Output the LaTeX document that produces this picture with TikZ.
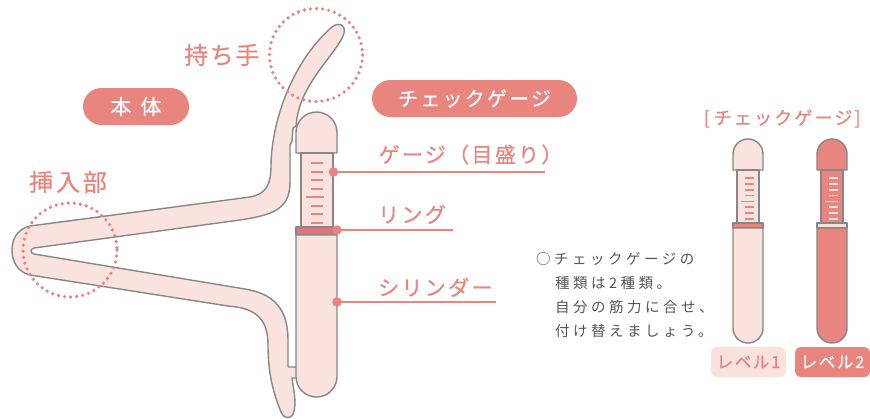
\documentclass[tikz,border=0pt]{standalone}
\usepackage{fontspec}
\newfontfamily\jp{Noto Sans CJK JP}
\newcommand{\jpfont}[2]{\jp\fontsize{#1}{#1}\selectfont\addfontfeature{LetterSpace=#2}}
\newcommand{\jpbfont}[2]{\jp\fontsize{#1}{#1}\selectfont\addfontfeature{LetterSpace=#2,FakeBold=0.6}}
\definecolor{accent}{HTML}{E8857F}
\definecolor{bodypink}{HTML}{FAE2DE}
\definecolor{lineGray}{HTML}{878787}
\definecolor{ringred}{HTML}{E07479}
\definecolor{textgray}{HTML}{555555}
\definecolor{lvlight}{HTML}{FBE1DD}
\tikzset{
  pics/levelgauge/.style n args={3}{code={
    % cap
    \path[outline, fill=#1] (0,31) -- (0,15) arc[start angle=180,end angle=360,radius=15] -- (30,31) -- cycle;
    % scale tube
    \path[outline, fill=#1] (4,31) rectangle (26,84);
    \foreach \k in {0,1,2,3,5,6,7}
      \draw[draw=#2, line width=1.8pt] (12,{39+5.86*\k}) -- (21,{39+5.86*\k});
    \draw[draw=#2, line width=1.8pt] (8,{39+5.86*4}) -- (21,{39+5.86*4});
    % ring
    \path[outline, fill=#3] (0,84) rectangle (30,89);
    % cylinder
    \path[outline, fill=#1] (0,89) -- (0,189) arc[start angle=180,end angle=0,radius=15] -- (30,89) -- cycle;
  }}
}
\begin{document}
\begin{tikzpicture}[x=1pt,y=-1pt,
  outline/.style={draw=lineGray, line width=1.4pt, line join=round},
  bodyshape/.style={outline, fill=bodypink},
  dotring/.style={draw=accent, line width=3.6pt, line cap=round, dash pattern=on 0pt off 6.1pt},
  leader/.style={draw=accent, line width=1.6pt},
  leaderdot/.style={circle, fill=accent, inner sep=0pt, minimum size=9.5pt},
  scaletick/.style={draw=accent, line width=2pt},
  tag/.style={text=accent, inner sep=0pt, anchor=base west},
  pill/.style={fill=accent, text=white, rounded corners=18.5pt, minimum height=37pt, inner sep=0pt},
  note/.style={text=textgray, inner sep=0pt, anchor=base west, font=\jpfont{14.5}{24}},
  lvtag/.style={rounded corners=6pt, minimum width=75pt, minimum height=30pt, inner sep=0pt, font=\jpbfont{16.5}{10}},
]
\path[fill=white] (0,0) rectangle (870,418);
\useasboundingbox (0,0) rectangle (870,418);

% main body: grip, insertion hairpin and tail
\path[bodyshape] (344,33)
  .. controls (340,50) and (303,80) .. (297,118)
  -- (296,126) -- (293,128) -- (292,141) -- (290,145) -- (290,182)
  .. controls (290,210) and (272,215) .. (240,220)
  -- (34,248)
  .. controls (30,249) and (30,253) .. (34,254)
  -- (245,289)
  .. controls (275,294) and (288,310) .. (288,340)
  -- (288,367) -- (298,367) -- (298,378) -- (292,378)
  .. controls (294,392) and (297,405) .. (293,414)
  .. controls (290,420) and (283,418) .. (281,412)
  .. controls (272,390) and (268,370) .. (268,345)
  .. controls (268,318) and (255,308) .. (228,306)
  -- (30,275)
  .. controls (18,272) and (12,262) .. (12,250)
  .. controls (12,238) and (18,229) .. (30,226)
  -- (250,197)
  .. controls (266,194) and (271,185) .. (271,165)
  .. controls (272,115) and (296,58) .. (332,27)
  .. controls (338,22) and (346,24) .. (344,33)
  -- cycle;

% check gauge mounted on the body
\path[bodyshape] (296,153) -- (296,132.5) arc[start angle=180,end angle=360,radius=20.5] -- (337,153) -- cycle;
\path[bodyshape] (301,153) rectangle (333,227);
\foreach \k in {0,1,2,3,5,6,7}
  \draw[scaletick] (311,{163+8.5*\k}) -- (323,{163+8.5*\k});
\draw[scaletick] (306,{163+8.5*4}) -- (324,{163+8.5*4});
\path[outline, fill=ringred] (296,227) rectangle (337,235);
\path[bodyshape] (296,235) -- (296,376.5) arc[start angle=180,end angle=0,radius=20.5] -- (337,235) -- cycle;

% dotted highlight circles
\draw[dotring] (316,55) circle[radius=46.5];
\draw[dotring] (70,250) circle[radius=47];

% leader lines
\coordinate (gdotc) at (333.5,172);
\coordinate (gend) at (545,172);
\draw[leader] (gdotc) -- (gend);
\node[leaderdot] (gdot) at (gdotc) {};
\coordinate (rdotc) at (337,230);
\coordinate (rend) at (453,230);
\draw[leader] (rdotc) -- (rend);
\node[leaderdot] (rdot) at (rdotc) {};
\coordinate (cdotc) at (337,302);
\coordinate (cend) at (496,302);
\draw[leader] (cdotc) -- (cend);
\node[leaderdot] (cdot) at (cdotc) {};

% labels
\node[tag, font=\jpbfont{21}{11}] (lblgauge) at (378.5,162.5) {ゲージ（目盛り）};
\node[tag, font=\jpbfont{21}{11}] (lblring) at (378,222.5) {リング};
\node[tag, font=\jpbfont{21}{11}] (lblcyl) at (378,295.5) {シリンダー};
\node[tag, font=\jpbfont{24}{7}] (lblgrip) at (184,64) {持ち手};
\node[tag, font=\jpbfont{24}{12}] (lblins) at (29,191) {挿入部};

\node[pill, minimum width=106pt, font=\jpbfont{21}{43}] (pillbody) at (136,106.5) {本体};
\node[pill, minimum width=205pt, font=\jpbfont{20}{11}] (pillgauge) at (474.5,98.5) {チェックゲージ};

% note text
\node[note] (n1) at (536,264) {○チェックゲージの};
\node[note] (n2) at (555,288) {種類は2種類。};
\node[note] (n3) at (555,312) {自分の筋力に合せ、};
\node[note] (n4) at (555,336) {付け替えましょう。};

% the two gauge levels
\node[tag, font=\jpbfont{18}{12}] (hdr) at (703.5,124.5) {[\hspace{4pt}チェックゲージ\hspace{2pt}]};
\pic (lvonegauge) at (733,139) {levelgauge={bodypink}{accent}{accent}};
\pic (lvtwogauge) at (817,139) {levelgauge={accent}{lvlight}{lvlight}};
\node[lvtag, fill=lvlight, text=accent] (lv1) at (748.5,362) {レベル1};
\node[lvtag, fill=accent, text=white] (lv2) at (832.5,362) {レベル2};
\end{tikzpicture}
\end{document}
